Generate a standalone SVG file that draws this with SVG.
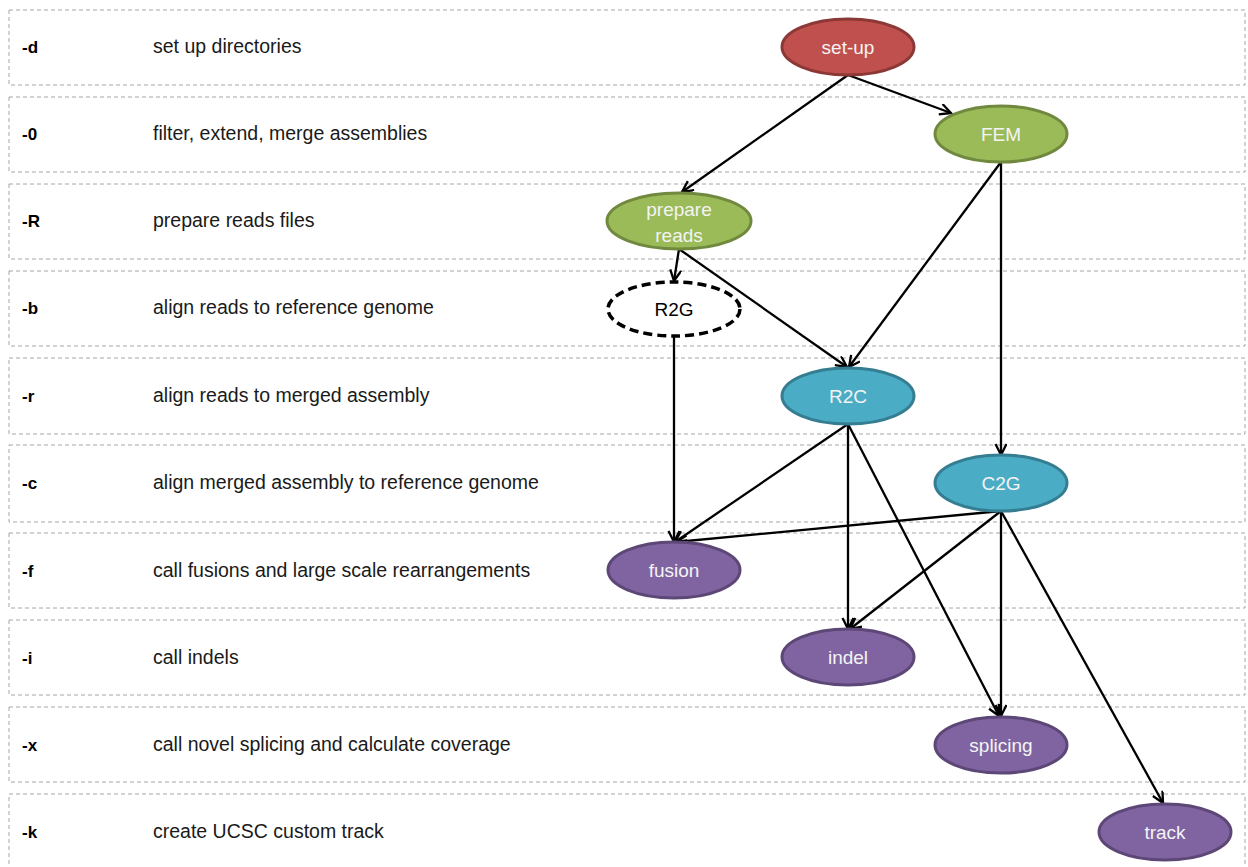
<svg xmlns="http://www.w3.org/2000/svg" width="1248" height="867" viewBox="0 0 1248 867">
<style>
.row{fill:none;stroke:#A6A6A6;stroke-width:1;stroke-dasharray:4,3}
.code{font-family:"Liberation Sans",Arial,sans-serif;font-size:17px;font-weight:bold;fill:#000}
.desc{font-family:"Liberation Sans",Arial,sans-serif;font-size:19.5px;fill:#1a1a1a}
.lbl{font-family:"Liberation Sans",Arial,sans-serif;font-size:19px;fill:#F4F4F4;text-anchor:middle}
.edge{fill:none;stroke:#000;stroke-width:2.3;marker-end:url(#arr)}
.red{fill:#C0504D;stroke:#8C3836;stroke-width:3}
.green{fill:#9BBB59;stroke:#71893F;stroke-width:3}
.blue{fill:#4BACC6;stroke:#357D91;stroke-width:3}
.purple{fill:#8064A2;stroke:#5C4776;stroke-width:3}
</style>
<defs>
<marker id="arr" markerUnits="userSpaceOnUse" markerWidth="16" markerHeight="16" refX="12" refY="6" orient="auto">
<path d="M1,0.5 L12,6 L1,11.5" fill="none" stroke="#000" stroke-width="2.3"/>
</marker>
</defs>
<rect width="1248" height="867" fill="#fff"/>
<g id="rows">
<rect class="row" x="9" y="10" width="1236" height="75"/>
<rect class="row" x="9" y="97" width="1236" height="75"/>
<rect class="row" x="9" y="184" width="1236" height="75"/>
<rect class="row" x="9" y="271" width="1236" height="75"/>
<rect class="row" x="9" y="358" width="1236" height="76"/>
<rect class="row" x="9" y="445" width="1236" height="77"/>
<rect class="row" x="9" y="533" width="1236" height="75"/>
<rect class="row" x="9" y="620" width="1236" height="75"/>
<rect class="row" x="9" y="707" width="1236" height="75"/>
<rect class="row" x="9" y="794" width="1236" height="80"/>
<text class="code" x="22" y="53">-d</text><text class="desc" x="153" y="53">set up directories</text>
<text class="code" x="22" y="140">-0</text><text class="desc" x="153" y="140">filter, extend, merge assemblies</text>
<text class="code" x="22" y="227">-R</text><text class="desc" x="153" y="227">prepare reads files</text>
<text class="code" x="22" y="314">-b</text><text class="desc" x="153" y="314">align reads to reference genome</text>
<text class="code" x="22" y="402">-r</text><text class="desc" x="153" y="402">align reads to merged assembly</text>
<text class="code" x="22" y="489">-c</text><text class="desc" x="153" y="489">align merged assembly to reference genome</text>
<text class="code" x="22" y="577">-f</text><text class="desc" x="153" y="577">call fusions and large scale rearrangements</text>
<text class="code" x="22" y="664">-i</text><text class="desc" x="153" y="664">call indels</text>
<text class="code" x="22" y="751">-x</text><text class="desc" x="153" y="751">call novel splicing and calculate coverage</text>
<text class="code" x="22" y="838">-k</text><text class="desc" x="153" y="838">create UCSC custom track</text>
</g>
<g id="connectors">
<line class="edge" x1="848" y1="75" x2="682" y2="192"/>
<line class="edge" x1="848" y1="75" x2="951" y2="113"/>
<line class="edge" x1="1001" y1="162" x2="849" y2="367"/>
<line class="edge" x1="1001" y1="162" x2="1001" y2="455"/>
<line class="edge" x1="679" y1="249" x2="674" y2="281"/>
<line class="edge" x1="679" y1="249" x2="847" y2="367"/>
<line class="edge" x1="674" y1="337" x2="674" y2="542"/>
<line class="edge" x1="848" y1="424" x2="675" y2="542"/>
<line class="edge" x1="848" y1="424" x2="848" y2="629"/>
<line class="edge" x1="848" y1="424" x2="999" y2="716"/>
<line class="edge" x1="1001" y1="511" x2="676" y2="542"/>
<line class="edge" x1="1001" y1="511" x2="850" y2="629"/>
<line class="edge" x1="1001" y1="511" x2="1001" y2="716"/>
<line class="edge" x1="1001" y1="511" x2="1163" y2="803"/>
</g>
<g id="node-setup"><ellipse class="red" cx="848" cy="47" rx="66" ry="28"/><text class="lbl" x="848" y="54">set-up</text></g>
<g id="node-FEM"><ellipse class="green" cx="1001" cy="134" rx="66" ry="28"/><text class="lbl" x="1001" y="141">FEM</text></g>
<g id="node-prepare"><ellipse class="green" cx="679" cy="221" rx="72" ry="28"/><text class="lbl" x="679" y="216">prepare</text><text class="lbl" x="679" y="242">reads</text></g>
<g id="node-R2G"><ellipse cx="674" cy="309" rx="66" ry="27" fill="#fff" stroke="#000" stroke-width="3.5" stroke-dasharray="9,5"/><text class="lbl" x="674" y="316" style="fill:#000">R2G</text></g>
<g id="node-R2C"><ellipse class="blue" cx="848" cy="396" rx="66" ry="28"/><text class="lbl" x="848" y="403">R2C</text></g>
<g id="node-C2G"><ellipse class="blue" cx="1001" cy="483" rx="66" ry="28"/><text class="lbl" x="1001" y="490">C2G</text></g>
<g id="node-fusion"><ellipse class="purple" cx="674" cy="570" rx="66" ry="28"/><text class="lbl" x="674" y="577">fusion</text></g>
<g id="node-indel"><ellipse class="purple" cx="848" cy="657" rx="66" ry="28"/><text class="lbl" x="848" y="664">indel</text></g>
<g id="node-splicing"><ellipse class="purple" cx="1001" cy="745" rx="66" ry="28"/><text class="lbl" x="1001" y="752">splicing</text></g>
<g id="node-track"><ellipse class="purple" cx="1165" cy="832" rx="66" ry="28"/><text class="lbl" x="1165" y="839">track</text></g>
</svg>
